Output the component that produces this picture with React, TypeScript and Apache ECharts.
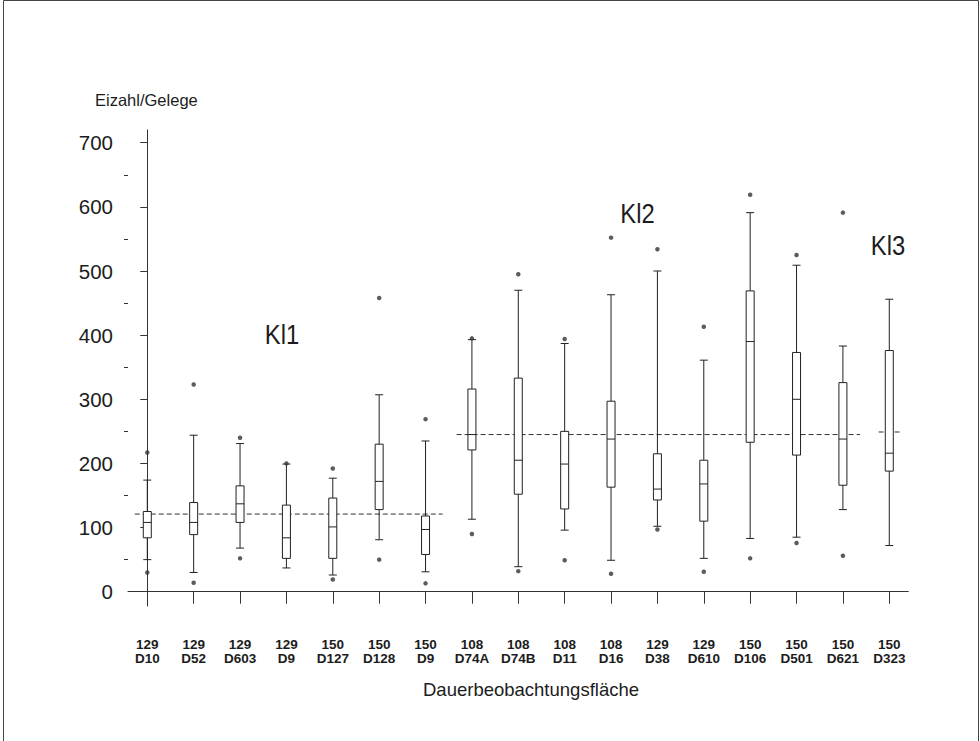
import React, { useEffect, useRef } from "react";
import * as echarts from "echarts";

// Site number (first label line) and plot id (second label line) per box
const sites = ["129", "129", "129", "129", "150", "150", "150", "108", "108", "108", "108", "129", "129", "150", "150", "150", "150"];
const plots = ["D10", "D52", "D603", "D9", "D127", "D128", "D9", "D74A", "D74B", "D11", "D16", "D38", "D610", "D106", "D501", "D621", "D323"];

// Five-number summaries of egg count per clutch
const whiskerLow = [50, 30, 68, 37, 26, 81, 31, 113, 39, 96, 49, 102, 52, 83, 85, 128, 72];
const q1 = [84, 89, 108, 52, 52, 128, 58, 221, 152, 129, 163, 143, 110, 233, 213, 166, 188];
const medians = [108, 108, 137, 84, 101, 172, 97, 245, 205, 199, 238, 160, 168, 390, 300, 238, 216];
const q3 = [125, 139, 165, 135, 146, 230, 118, 316, 333, 250, 297, 215, 205, 469, 373, 326, 376];
const whiskerHigh = [174, 244, 231, 199, 177, 307, 235, 393, 470, 387, 463, 500, 361, 591, 509, 383, 456];

// Outlying clutches per box
const outliers: number[][] = [
  [217, 30], [323, 14], [240, 52], [200], [192, 19], [458, 50], [269, 13],
  [395, 90], [495, 32], [394, 49], [552, 28], [534, 97], [413, 31],
  [619, 52], [525, 76], [591, 56], [],
];

// Class means (dashed reference lines) and the box ranges they span
const classNames = ["Kl1", "Kl2", "Kl3"];
const classMeans = [121, 245, 249];
const classSpans = [[-0.27, 6.37], [6.67, 15.37], [15.77, 16.26]];

const yTicks = [0, 100, 200, 300, 400, 500, 600, 700];
const yMinorTicks = [50, 150, 250, 350, 450, 550, 650];

const FONT = "'Liberation Sans', Arial, Helvetica, sans-serif";
const INK = "#1c1c1c";

export default function App() {
  const ref = useRef<HTMLDivElement>(null);

  useEffect(() => {
    if (!ref.current) return;
    const chart = echarts.init(ref.current, null, { renderer: "svg" });
    const idx = plots.map((_, i) => i);

    const boxData = idx.map((i) => [i, whiskerLow[i], q1[i], medians[i], q3[i], whiskerHigh[i]]);
    const outlierData: number[][] = [];
    outliers.forEach((vals, i) => vals.forEach((v) => outlierData.push([i, v])));

    const meanSeries = classMeans.map((m, k) => ({
      type: "line",
      data: [[classSpans[k][0], m], [classSpans[k][1], m]],
      symbol: "none",
      silent: true,
      lineStyle: { color: "#333", width: 1, type: [5, 3] },
      z: 1,
    }));

    chart.setOption({
      animation: false,
      backgroundColor: "#fff",
      textStyle: { fontFamily: FONT },
      grid: { left: 128, right: 71.7, top: 129.9, bottom: 135 },
      xAxis: {
        type: "value",
        min: -0.416,
        max: 16.41,
        splitLine: { show: false },
        axisLine: { show: true, lineStyle: { color: "#333", width: 1 } },
        axisTick: { show: true, customValues: idx, length: 12, lineStyle: { color: "#333" } },
        axisLabel: {
          customValues: idx,
          formatter: (v: number) => {
            const i = Math.round(v);
            return `${sites[i]}\n${plots[i]}`;
          },
          fontSize: 13.5,
          fontWeight: "bold",
          lineHeight: 14.5,
          color: INK,
          margin: 31,
          fontFamily: FONT,
        },
      },
      yAxis: [
        {
          type: "value",
          min: -22.3,
          max: 720,
          splitLine: { show: false },
          axisLine: { show: true, lineStyle: { color: "#333", width: 1 } },
          axisTick: { show: true, customValues: yTicks, length: 7, lineStyle: { color: "#333" } },
          axisLabel: { customValues: yTicks, fontSize: 20.5, color: INK, margin: 15, fontFamily: FONT },
        },
        {
          type: "value",
          position: "left",
          min: -22.3,
          max: 720,
          splitLine: { show: false },
          axisLine: { show: false },
          axisTick: { show: true, customValues: yMinorTicks, length: 4, lineStyle: { color: "#333" } },
          axisLabel: { show: false },
        },
      ],
      series: [
        ...meanSeries,
        {
          type: "boxplot",
          layout: "horizontal",
          data: boxData,
          boxWidth: [8, 8],
          itemStyle: { color: "#fff", borderColor: "#222", borderWidth: 1 },
          z: 3,
        },
        {
          type: "scatter",
          data: outlierData,
          symbol: "circle",
          symbolSize: 4.5,
          itemStyle: { color: "#333" },
          z: 4,
        },
      ],
      graphic: [
        {
          type: "rect",
          shape: { x: 3.5, y: 0.5, width: 975, height: 780 },
          style: { fill: "none", stroke: "#444", lineWidth: 1 },
          silent: true,
        },
        {
          type: "text",
          x: 95,
          y: 100,
          style: { text: "Eizahl/Gelege", font: `16.5px ${FONT}`, fill: INK, textVerticalAlign: "middle" },
        },
        {
          type: "text",
          x: 531,
          y: 689,
          style: {
            text: "Dauerbeobachtungsfläche",
            font: `18.5px ${FONT}`,
            fill: INK,
            textAlign: "center",
            textVerticalAlign: "middle",
          },
        },
        ...[
          [282, 334],
          [637.5, 213],
          [888, 245],
        ].map((p, k) => ({
          type: "text",
          x: p[0],
          y: p[1],
          scaleX: 0.85,
          style: {
            text: classNames[k],
            font: `28px ${FONT}`,
            fill: INK,
            textAlign: "center",
            textVerticalAlign: "middle",
          },
        })),
      ],
    });

    return () => chart.dispose();
  }, []);

  return (
    <div
      ref={ref}
      style={{ position: "absolute", left: 0, top: 0, width: 980, height: 741, background: "#fff" }}
    />
  );
}
